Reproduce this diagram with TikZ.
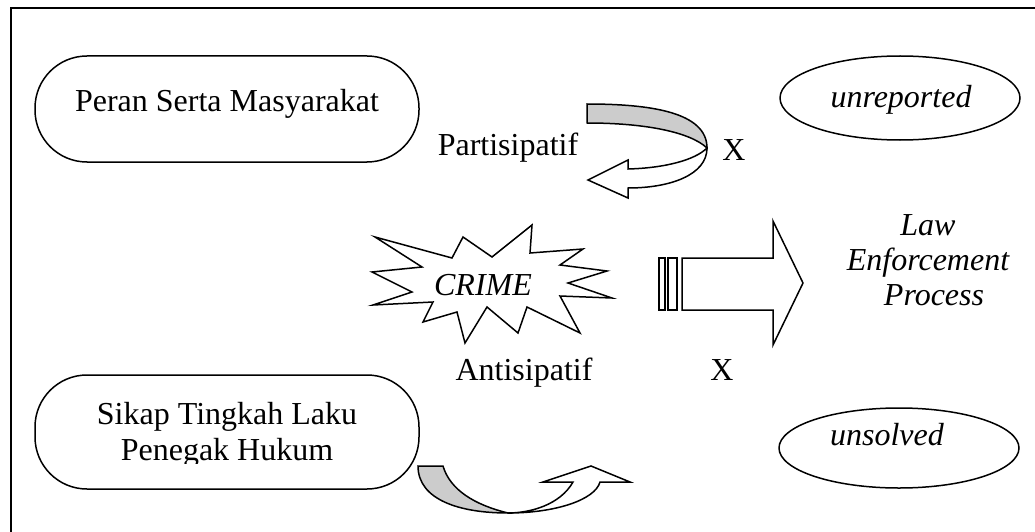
\documentclass[tikz,border=0pt]{standalone}
\usepackage{fontspec}
\setmainfont{Liberation Serif}
\usetikzlibrary{shapes.geometric}
\begin{document}
\begin{tikzpicture}[x=1pt,y=-1pt,line width=1.5pt,line join=miter,
  txt/.style={font=\fontsize{32}{36}\selectfont,inner sep=0pt,anchor=base},
  itxt/.style={txt,font=\fontsize{32}{36}\selectfont\itshape},
  pill/.style={draw,rectangle,rounded corners=52pt,minimum width=384pt,inner sep=0pt},
  oval/.style={draw,ellipse,minimum width=240pt,inner sep=0pt},
  band/.style={draw,fill=black!20},
  face/.style={draw,fill=white}]
\useasboundingbox (0,0) rectangle (1035,532);

% frame (top and left edges)
\draw (11,532) -- (11,8) -- (1035,8);

% left boxes
\node[pill,minimum height=106pt] (peran) at (227,109) {};
\node[txt] (peranT) at (227,112) {Peran Serta Masyarakat};
\node[pill,minimum height=114pt] (sikap) at (227,432) {};
\node[txt] (sikapT) at (227,424) {Sikap Tingkah Laku};
\begin{scope}
  \clip (60,430) rectangle (400,463);
  \node[txt] (penegakT) at (227,460) {Penegak Hukum};
\end{scope}

% right ellipses
\node[oval,minimum height=84pt] (unrep) at (900,98) {};
\node[itxt] (unrepT) at (901,107) {unreported};
\node[oval,minimum height=80pt] (unsol) at (899,448) {};
\node[itxt] (unsolT) at (887,445) {unsolved};

% explosion
\draw[fill=white] (532,225) -- (530,253) -- (583,249) -- (560,265) -- (607,271)
  -- (568,283) -- (612,298) -- (560,296) -- (580,333) -- (527,307) -- (518,333)
  -- (487,307) -- (465,343) -- (457,312) -- (423,322) -- (433,302) -- (373,305)
  -- (412,292) -- (372,272) -- (422,267) -- (375,237) -- (452,258) -- (463,237)
  -- (492,257) -- cycle;
\node[itxt] (crime) at (483,295) {CRIME};

% striped block arrow
\draw (659,258) rectangle (665,310);
\draw (668,258) rectangle (677,310);
\draw (682,258) -- (773,258) -- (773,221) -- (803,283) -- (773,345) -- (773,310)
  -- (682,310) -- cycle;

% upper curved arrow
\draw[band] (587,104) .. controls (650,104) and (707,112) .. (707,148)
  .. controls (690,132) and (645,123) .. (587,123) -- cycle;
\draw[face] (707,148) .. controls (707,175) and (670,188) .. (628,188)
  -- (628,198) -- (588,180) -- (628,160) -- (628,169)
  .. controls (665,168) and (695,160) .. (707,148) -- cycle;

% lower curved arrow
\draw[band] (418,466) -- (443,466) .. controls (450,490) and (475,505) .. (508,513)
  .. controls (460,513) and (418,500) .. (418,466) -- cycle;
\draw[face] (508,513) .. controls (555,513) and (595,500) .. (600,482)
  -- (630,482) -- (591,466) -- (543,482) -- (573,482)
  .. controls (560,505) and (530,513) .. (508,513) -- cycle;

% labels
\node[txt] (parti) at (508,155) {Partisipatif};
\node[txt] (x1) at (734,160) {X};
\node[txt] (anti) at (524,380) {Antisipatif};
\node[txt] (x2) at (722,380) {X};
\node[itxt] (law) at (928,235) {Law};
\node[itxt] (enf) at (928,270) {Enforcement};
\node[itxt] (proc) at (934,305) {Process};
\end{tikzpicture}
\end{document}
